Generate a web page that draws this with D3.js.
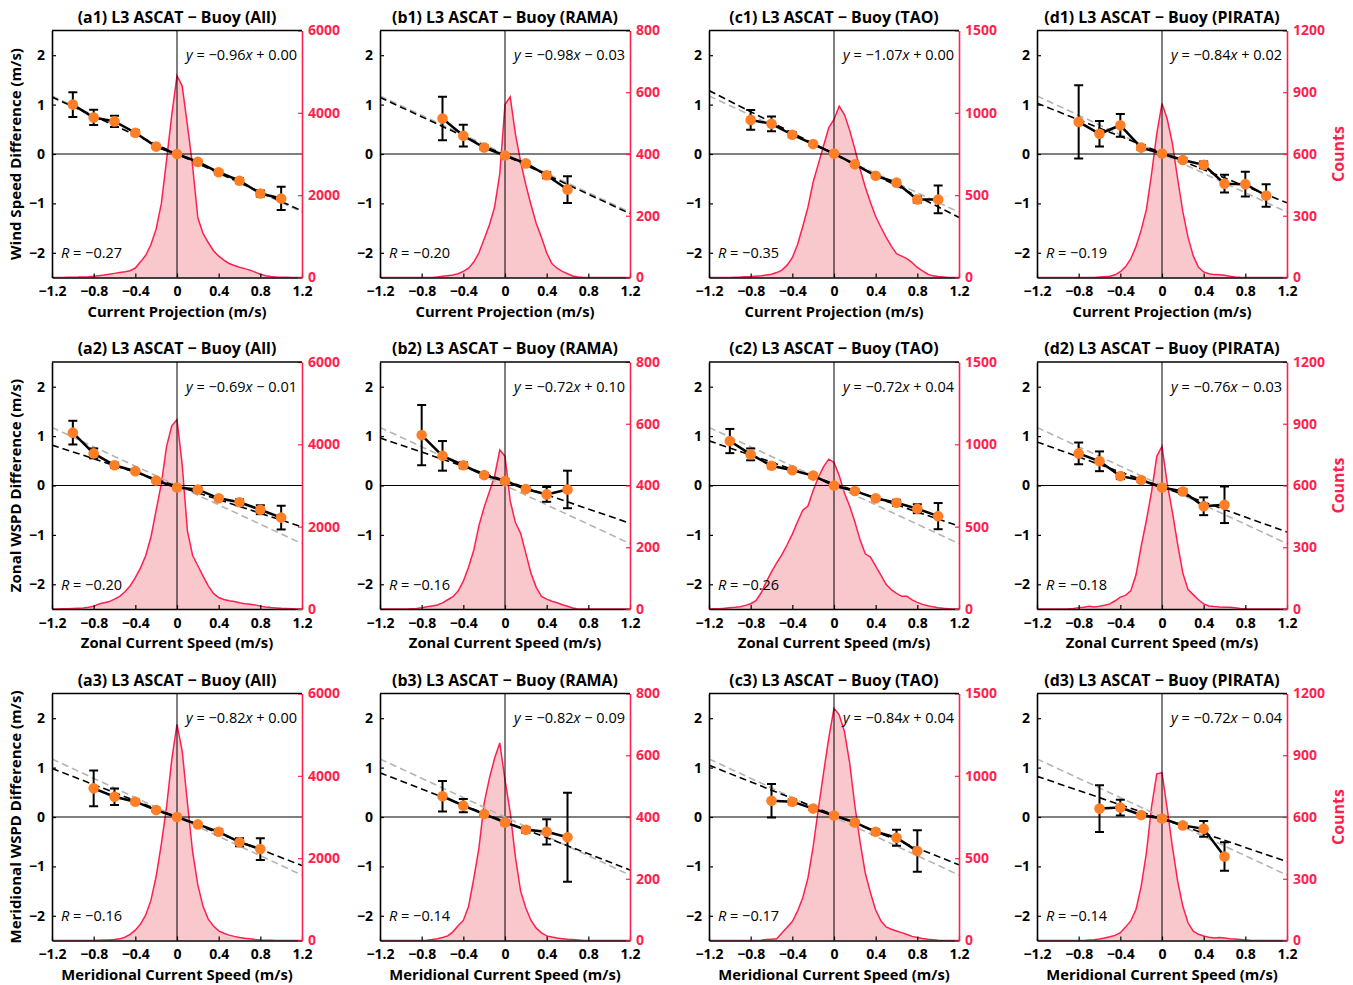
<!DOCTYPE html>
<html>
<head>
<meta charset="utf-8">
<script src="https://d3js.org/d3.v7.min.js"></script>
<style>
 body { margin: 0; background: #fff; }
 svg text { font-family: "Open Sans", "Noto Sans", sans-serif; }
</style>
</head>
<body>
<div id="chart"></div>
<script>
// ---- data (panels in order a1 b1 c1 d1 a2 ... d3) ----
var titles = [
  "(a1) L3 ASCAT \u2212 Buoy (All)", "(b1) L3 ASCAT \u2212 Buoy (RAMA)", "(c1) L3 ASCAT \u2212 Buoy (TAO)", "(d1) L3 ASCAT \u2212 Buoy (PIRATA)",
  "(a2) L3 ASCAT \u2212 Buoy (All)", "(b2) L3 ASCAT \u2212 Buoy (RAMA)", "(c2) L3 ASCAT \u2212 Buoy (TAO)", "(d2) L3 ASCAT \u2212 Buoy (PIRATA)",
  "(a3) L3 ASCAT \u2212 Buoy (All)", "(b3) L3 ASCAT \u2212 Buoy (RAMA)", "(c3) L3 ASCAT \u2212 Buoy (TAO)", "(d3) L3 ASCAT \u2212 Buoy (PIRATA)"
];
var xLabels = ["Current Projection (m/s)", "Zonal Current Speed (m/s)", "Meridional Current Speed (m/s)"];
var yLabels = ["Wind Speed Difference (m/s)", "Zonal WSPD Difference (m/s)", "Meridional WSPD Difference (m/s)"];
var slopes     = [-0.96, -0.98, -1.07, -0.84, -0.69, -0.72, -0.72, -0.76, -0.82, -0.82, -0.84, -0.72];
var intercepts = [ 0.00, -0.03,  0.00,  0.02, -0.01,  0.10,  0.04, -0.03,  0.00, -0.09,  0.04, -0.04];
var rValues    = [-0.27, -0.20, -0.35, -0.19, -0.20, -0.16, -0.26, -0.18, -0.16, -0.14, -0.17, -0.14];
var refSlope = -0.98;
var countMax = [6000, 800, 1500, 1200];
var countTicks = [[0, 2000, 4000, 6000], [0, 200, 400, 600, 800], [0, 500, 1000, 1500], [0, 300, 600, 900, 1200]];
var xTicks = [-1.2, -0.8, -0.4, 0, 0.4, 0.8, 1.2];
var yTicks = [-2, -1, 0, 1, 2];

var binX = [
  [-1, -0.8, -0.6, -0.4, -0.2, 0, 0.2, 0.4, 0.6, 0.8, 1],
  [-0.6, -0.4, -0.2, 0, 0.2, 0.4, 0.6],
  [-0.8, -0.6, -0.4, -0.2, 0, 0.2, 0.4, 0.6, 0.8, 1],
  [-0.8, -0.6, -0.4, -0.2, 0, 0.2, 0.4, 0.6, 0.8, 1],
  [-1, -0.8, -0.6, -0.4, -0.2, 0, 0.2, 0.4, 0.6, 0.8, 1],
  [-0.8, -0.6, -0.4, -0.2, 0, 0.2, 0.4, 0.6],
  [-1, -0.8, -0.6, -0.4, -0.2, 0, 0.2, 0.4, 0.6, 0.8, 1],
  [-0.8, -0.6, -0.4, -0.2, 0, 0.2, 0.4, 0.6],
  [-0.8, -0.6, -0.4, -0.2, 0, 0.2, 0.4, 0.6, 0.8],
  [-0.6, -0.4, -0.2, 0, 0.2, 0.4, 0.6],
  [-0.6, -0.4, -0.2, 0, 0.2, 0.4, 0.6, 0.8],
  [-0.6, -0.4, -0.2, 0, 0.2, 0.4, 0.6]
];
var binMean = [
  [1.0, 0.74, 0.66, 0.43, 0.15, 0.0, -0.16, -0.37, -0.54, -0.8, -0.9],
  [0.72, 0.37, 0.13, -0.03, -0.19, -0.43, -0.72],
  [0.69, 0.61, 0.39, 0.2, 0.01, -0.21, -0.44, -0.58, -0.92, -0.92],
  [0.65, 0.41, 0.58, 0.13, 0.01, -0.12, -0.22, -0.6, -0.61, -0.84],
  [1.07, 0.65, 0.41, 0.29, 0.1, -0.04, -0.08, -0.26, -0.34, -0.49, -0.65],
  [1.02, 0.6, 0.41, 0.21, 0.09, -0.07, -0.18, -0.08],
  [0.9, 0.63, 0.4, 0.31, 0.2, 0.0, -0.11, -0.26, -0.35, -0.47, -0.62],
  [0.65, 0.49, 0.19, 0.11, -0.04, -0.12, -0.42, -0.39],
  [0.58, 0.41, 0.31, 0.14, 0.0, -0.15, -0.3, -0.51, -0.65],
  [0.42, 0.23, 0.06, -0.11, -0.26, -0.3, -0.41],
  [0.33, 0.31, 0.17, 0.03, -0.11, -0.3, -0.42, -0.69],
  [0.17, 0.19, 0.04, -0.03, -0.17, -0.24, -0.8]
];
var binErr = [
  [0.25, 0.155, 0.115, 0.05, 0.03, 0.015, 0.03, 0.04, 0.05, 0.06, 0.235],
  [0.44, 0.22, 0.04, 0.02, 0.04, 0.06, 0.27],
  [0.2, 0.15, 0.05, 0.03, 0.02, 0.03, 0.03, 0.04, 0.06, 0.28],
  [0.74, 0.26, 0.23, 0.05, 0.02, 0.04, 0.07, 0.18, 0.25, 0.23],
  [0.24, 0.1, 0.05, 0.03, 0.03, 0.02, 0.04, 0.04, 0.06, 0.09, 0.24],
  [0.61, 0.3, 0.06, 0.04, 0.04, 0.04, 0.15, 0.38],
  [0.245, 0.12, 0.05, 0.03, 0.04, 0.02, 0.04, 0.04, 0.06, 0.09, 0.265],
  [0.22, 0.2, 0.06, 0.04, 0.03, 0.05, 0.18, 0.37],
  [0.36, 0.165, 0.04, 0.03, 0.02, 0.03, 0.05, 0.08, 0.22],
  [0.31, 0.135, 0.03, 0.04, 0.06, 0.255, 0.9],
  [0.34, 0.05, 0.03, 0.03, 0.04, 0.05, 0.16, 0.42],
  [0.475, 0.16, 0.03, 0.04, 0.04, 0.16, 0.29]
];

var histX = [-1.2, -1.15, -1.1, -1.05, -1.0, -0.95, -0.9, -0.85, -0.8, -0.75, -0.7, -0.65, -0.6, -0.55, -0.5, -0.45, -0.4,
  -0.35, -0.3, -0.25, -0.2, -0.15, -0.1, -0.05, 0, 0.05, 0.1, 0.15, 0.2, 0.25, 0.3, 0.35, 0.4, 0.45, 0.5, 0.55, 0.6,
  0.65, 0.7, 0.75, 0.8, 0.85, 0.9, 0.95, 1.0, 1.05, 1.1, 1.15, 1.2];
var histCounts = [
  [0,0,0,5,8,10,15,20,30,45,60,80,100,120,140,165,230,380,540,800,1180,1800,2850,3950,4900,4650,3700,2700,1450,1070,850,650,520,420,340,290,250,215,180,130,81,45,25,15,8,4,0,0,0],
  [0,0,0,0,0,0,0,0,0,0,0,2,4,6,8,12,20,30,50,80,125,170,228,336,560,585,465,375,300,235,175,130,80,45,30,20,12,5,2,0,0,0,0,0,0,0,0,0,0],
  [0,0,0,0,0,2,3,5,6,8,10,15,20,30,45,75,120,200,310,427,580,690,800,910,960,1040,990,895,780,660,550,455,370,305,245,190,145,130,115,90,61,40,20,10,6,3,0,0,0],
  [0,0,0,0,0,0,0,0,0,0,0,0,2,4,6,13,28,52,90,150,230,330,504,699,845,770,650,480,320,195,105,49,27,18,14,13,11,6,3,1,0,0,0,0,0,0,0,0,0],
  [0,2,5,8,12,18,25,40,65,120,150,180,240,308,420,560,760,1000,1300,1750,2400,3050,3950,4450,4600,3500,1900,1300,1050,800,560,380,280,230,200,180,150,130,115,100,70,50,35,25,16,10,5,2,0],
  [0,0,0,0,0,0,1,2,4,7,10,13,20,30,40,58,90,135,190,270,330,380,430,515,495,350,280,245,180,115,70,41,32,25,20,14,9,3,0,0,0,0,0,0,0,0,0,0,0],
  [0,1,2,4,8,10,14,22,32,50,97,165,225,280,330,390,455,530,600,625,720,800,865,910,890,810,704,625,530,420,335,315,260,205,150,117,95,77,77,55,40,28,20,13,8,4,2,0,0],
  [0,0,0,0,0,0,1,3,6,9,13,10,13,18,25,40,58,66,88,165,304,430,570,742,790,610,470,315,175,94,70,45,25,15,12,10,9,8,6,3,1,0,0,0,0,0,0,0,0],
  [0,0,0,0,0,0,0,0,3,6,10,15,22,40,80,150,250,400,620,980,1560,2350,3250,4400,5250,4600,3350,2150,1350,830,520,350,235,175,130,100,75,55,40,25,15,8,4,2,0,0,0,0,0],
  [0,0,0,0,0,0,0,0,0,1,3,6,10,15,28,48,65,110,200,300,445,525,590,640,520,415,270,160,105,65,40,25,15,11,8,6,4,3,2,0,0,0,0,0,0,0,0,0,0],
  [0,0,0,0,0,0,0,0,0,0,2,6,8,10,45,80,115,178,260,380,570,800,1020,1230,1410,1370,1270,1080,820,600,410,290,185,120,82,68,58,48,36,25,18,12,8,5,2,0,0,0,0],
  [0,0,0,0,0,0,0,0,0,0,2,4,7,12,18,25,38,65,95,150,263,425,651,810,815,640,455,290,166,86,45,30,22,16,12,14,12,9,7,5,3,1,0,0,0,0,0,0,0]
];

// ---- layout ----
var panelLeft = [52, 380, 709, 1037];
var panelTop = [30.5, 362, 693.5];
var pw = 250, ph = 247;
var red = "#ff1f4f", pink = "#f9c8cd", orange = "#ff7f27";

var svg = d3.select("#chart").append("svg")
    .attr("width", 1353).attr("height", 985);

var tickFmt = function(d) { return d === 0 ? "0" : d3.format(".1f")(d); };
var signed = function(v) { return (v < 0 ? "\u2212 " : "+ ") + Math.abs(v).toFixed(2); };

for (var r = 0; r < 3; r++) {
  for (var c = 0; c < 4; c++) drawPanel(r, c);
}

function drawPanel(r, c) {
  var k = r * 4 + c;
  var g = svg.append("g").attr("transform", "translate(" + panelLeft[c] + "," + panelTop[r] + ")");
  var x = d3.scaleLinear().domain([-1.2, 1.2]).range([0, pw]);
  var y = d3.scaleLinear().domain([-2.5, 2.5]).range([ph, 0]);
  var yc = d3.scaleLinear().domain([0, countMax[c]]).range([ph, 0]);

  g.append("clipPath").attr("id", "clip" + k)
   .append("rect").attr("width", pw).attr("height", ph);
  var plot = g.append("g").attr("clip-path", "url(#clip" + k + ")");

  // counts histogram
  var hist = histX.map(function(v, i) { return [v, histCounts[k][i]]; });
  plot.append("path").datum(hist)
      .attr("fill", pink)
      .attr("d", d3.area().x(function(d) { return x(d[0]); }).y0(ph).y1(function(d) { return yc(d[1]); }));
  plot.append("path").datum(hist)
      .attr("fill", "none").attr("stroke", red).attr("stroke-width", 1.5)
      .attr("d", d3.line().x(function(d) { return x(d[0]); }).y(function(d) { return yc(d[1]); }));

  // zero lines
  plot.append("line").attr("x1", 0).attr("x2", pw).attr("y1", y(0)).attr("y2", y(0))
      .attr("stroke", "#000").attr("stroke-width", 1.2);
  plot.append("line").attr("x1", x(0)).attr("x2", x(0)).attr("y1", 0).attr("y2", ph)
      .attr("stroke", "#000").attr("stroke-width", 1);

  // reference and fitted lines
  var line = d3.line().x(function(d) { return x(d[0]); }).y(function(d) { return y(d[1]); });
  plot.append("path").datum([[-1.2, refSlope * -1.2], [1.2, refSlope * 1.2]])
      .attr("d", line).attr("fill", "none").attr("stroke", "#b4b4b4")
      .attr("stroke-width", 1.6).attr("stroke-dasharray", "7,4");
  plot.append("path").datum([-1.2, 1.2].map(function(v) { return [v, slopes[k] * v + intercepts[k]]; }))
      .attr("d", line).attr("fill", "none").attr("stroke", "#000")
      .attr("stroke-width", 1.6).attr("stroke-dasharray", "7,4");

  // binned means
  var pts = binX[k].map(function(v, i) { return {x: v, m: binMean[k][i], e: binErr[k][i]}; });
  plot.append("path").datum(pts.map(function(p) { return [p.x, p.m]; }))
      .attr("d", line).attr("fill", "none").attr("stroke", "#000").attr("stroke-width", 2.5);
  var eb = plot.append("g").attr("stroke", "#000").attr("stroke-width", 2);
  pts.forEach(function(p) {
    var px = x(p.x), top = y(p.m + p.e), bot = y(p.m - p.e);
    eb.append("line").attr("x1", px).attr("x2", px).attr("y1", top).attr("y2", bot);
    eb.append("line").attr("x1", px - 4.5).attr("x2", px + 4.5).attr("y1", top).attr("y2", top);
    eb.append("line").attr("x1", px - 4.5).attr("x2", px + 4.5).attr("y1", bot).attr("y2", bot);
  });
  plot.selectAll("circle.dot").data(pts).enter().append("circle")
      .attr("cx", function(p) { return x(p.x); })
      .attr("cy", function(p) { return y(p.m); })
      .attr("r", 5.3).attr("fill", orange);

  // axes
  var ax = g.append("g").attr("transform", "translate(0," + ph + ")")
      .call(d3.axisBottom(x).tickValues(xTicks).tickFormat(tickFmt).tickSize(-4).tickSizeOuter(0).tickPadding(9));
  var ay = g.append("g")
      .call(d3.axisLeft(y).tickValues(yTicks).tickFormat(function(d) { return d3.format("d")(d); }).tickSize(-4).tickSizeOuter(0).tickPadding(7));
  var ar = g.append("g").attr("transform", "translate(" + pw + ",0)").attr("color", red)
      .call(d3.axisRight(yc).tickValues(countTicks[c]).tickFormat(d3.format("d")).tickSize(-4).tickSizeOuter(0).tickPadding(6));
  [ax, ay, ar].forEach(function(a) {
    a.selectAll("text").style("font-family", "'Open Sans', sans-serif")
     .style("font-size", "14px").style("font-weight", "bold");
    a.select(".domain").attr("stroke-width", 1.6);
    a.selectAll(".tick line").attr("stroke-width", 1.2);
  });
  g.append("line").attr("x1", 0).attr("x2", pw).attr("y1", 0).attr("y2", 0)
      .attr("stroke", "#000").attr("stroke-width", 1.6);

  // texts
  g.append("text").attr("x", pw / 2).attr("y", -8).attr("text-anchor", "middle")
      .style("font-size", "15.9px").style("font-weight", "bold").text(titles[k]);
  g.append("text").attr("x", pw / 2).attr("y", ph + 39).attr("text-anchor", "middle")
      .style("font-size", "14.8px").style("font-weight", "bold").text(xLabels[r]);

  var ft = g.append("text").attr("x", pw - 5).attr("y", 29.5).attr("text-anchor", "end")
      .style("font-size", "14.5px");
  ft.append("tspan").style("font-style", "italic").text("y");
  ft.append("tspan").text(" = " + d3.format(".2f")(slopes[k]));
  ft.append("tspan").style("font-style", "italic").text("x");
  ft.append("tspan").text(" " + signed(intercepts[k]));

  var rt = g.append("text").attr("x", 9).attr("y", 227.5).style("font-size", "14.5px");
  rt.append("tspan").style("font-style", "italic").text("R");
  rt.append("tspan").text(" = " + d3.format(".2f")(rValues[k]));

  if (c === 0) {
    g.append("text").attr("transform", "translate(-31," + (ph / 2) + ") rotate(-90)")
        .attr("text-anchor", "middle").style("font-size", "15px").style("font-weight", "bold")
        .text(yLabels[r]);
  }
  if (c === 3) {
    g.append("text").attr("transform", "translate(" + (pw + 57) + "," + (ph / 2) + ") rotate(-90)")
        .attr("text-anchor", "middle").attr("fill", red)
        .style("font-size", "16px").style("font-weight", "bold").text("Counts");
  }
}
</script>
</body>
</html>
